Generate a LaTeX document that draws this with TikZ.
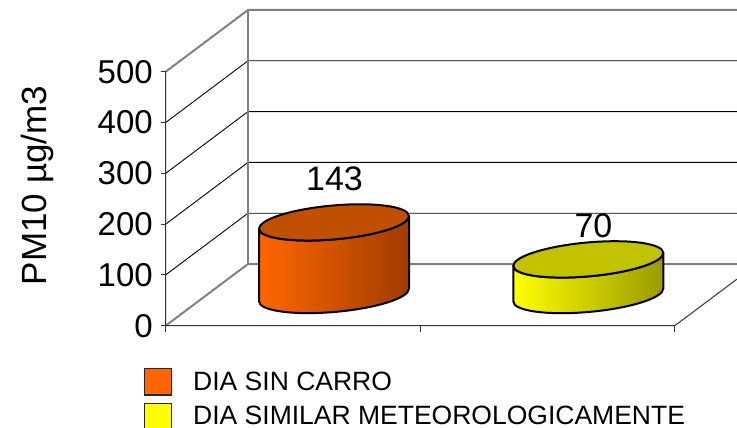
\documentclass[tikz,border=0pt]{standalone}
\usepackage{fontspec}
\setmainfont{Liberation Sans}
\usepackage{tikz}

\definecolor{carroorange}{HTML}{FF6600}
\definecolor{carrodark}{HTML}{A03C00}
\definecolor{carrotop}{HTML}{C05000}
\definecolor{simyellow}{HTML}{FFFF00}
\definecolor{simdark}{HTML}{9A9A00}
\definecolor{simtop}{HTML}{C2C200}
\definecolor{wallgray}{HTML}{808080}

\begin{document}
\begin{tikzpicture}[x=1pt, y=-1pt,
		wall_style/.style={draw=wallgray,line width=2pt},
		grid_style/.style={draw=black,line width=0.9pt},
		axis_style/.style={draw=black!80,line width=1pt},
		tick_label/.style={anchor=east,inner sep=0pt,font=\fontsize{33}{33}\selectfont},
		value_label/.style={anchor=base,inner sep=0pt,font=\fontsize{34}{34}\selectfont},
		axis_label/.style={anchor=base,rotate=90,inner sep=0pt,font=\fontsize{35}{35}\selectfont},
		legend_box/.style={draw=black!85,line width=1.2pt,minimum size=26.5pt,inner sep=0pt},
		legend_label/.style={anchor=base west,inner sep=0pt,font=\fontsize{26.5}{26.5}\selectfont},
		cyl_edge/.style={draw=black,line width=2pt,line join=round}]
		
		\useasboundingbox (0,0) rectangle (737,428);
		
		% front axis and back wall corners
		\coordinate (f0) at (165.7,325.7);
		\coordinate (f1) at (165.7,274.9);
		\coordinate (f2) at (165.7,224.1);
		\coordinate (f3) at (165.7,173.3);
		\coordinate (f4) at (165.7,122.5);
		\coordinate (f5) at (165.7,71.7);
		\coordinate (b0) at (248,264);
		\coordinate (b1) at (248,213.2);
		\coordinate (b2) at (248,162.4);
		\coordinate (b3) at (248,111.6);
		\coordinate (b4) at (248,60.8);
		\coordinate (b5) at (248,10);
		\coordinate (e0) at (737,264);
		\coordinate (e1) at (737,213.2);
		\coordinate (e2) at (737,162.4);
		\coordinate (e3) at (737,111.6);
		\coordinate (e4) at (737,60.8);
		\coordinate (e5) at (737,10);
		\coordinate (fm) at (420.5,325.7);
		\coordinate (fr) at (674.8,325.7);
		\coordinate (fe) at (737,279.1);
		
		% grid
		\draw[grid_style] (f1) -- (b1) -- (e1);
		\draw[grid_style] (f2) -- (b2) -- (e2);
		\draw[grid_style] (f3) -- (b3) -- (e3);
		\draw[grid_style] (f4) -- (b4) -- (e4);
		\draw[wall_style] (f5) -- (b5) -- (e5);
		\draw[wall_style] (f0) -- (b0) -- (e0);
		\draw[wall_style] (b0) -- (b5);
		
		% axes
		\draw[axis_style] (f5) -- (f0) -- (fr) -- (fe);
		\draw[axis_style] (f0) -- ++(-5,0);
		\draw[axis_style] (f1) -- ++(-5,0);
		\draw[axis_style] (f2) -- ++(-5,0);
		\draw[axis_style] (f3) -- ++(-5,0);
		\draw[axis_style] (f4) -- ++(-5,0);
		\draw[axis_style] (f5) -- ++(-5,0);
		\draw[axis_style] (f0) -- ++(0,6);
		\draw[axis_style] (fm) -- ++(0,6);
		\draw[axis_style] (fr) -- ++(0,6);
		
		\node[tick_label] (t0) at (153,325.7) {0};
		\node[tick_label] (t1) at (153,274.9) {100};
		\node[tick_label] (t2) at (153,224.1) {200};
		\node[tick_label] (t3) at (153,173.3) {300};
		\node[tick_label] (t4) at (153,122.5) {400};
		\node[tick_label] (t5) at (153,71.7) {500};
		\node[axis_label] (ylab) at (46.5,185.5) {PM10 µg/m3};
		
		% dia sin carro
		\begin{scope}[shift={(334,222.4)}, cm={1,0.084,0,1,(0,0)}]
			\path[cyl_edge, left color=carroorange, right color=carrodark]
				(-75,0) -- (-75,72.6) arc[start angle=180, end angle=360, x radius=75pt, y radius=17pt]
				-- (75,0) arc[start angle=0, end angle=-180, x radius=75pt, y radius=17pt] -- cycle;
			\path[cyl_edge, fill=carrotop] (0,0) ellipse[x radius=75pt, y radius=17pt];
		\end{scope}
		
		% dia similar
		\begin{scope}[shift={(588.3,259.4)}, cm={1,0.086,0,1,(0,0)}]
			\path[cyl_edge, left color=simyellow, right color=simdark]
				(-75,0) -- (-75,35.6) arc[start angle=180, end angle=360, x radius=75pt, y radius=17pt]
				-- (75,0) arc[start angle=0, end angle=-180, x radius=75pt, y radius=17pt] -- cycle;
			\path[cyl_edge, fill=simtop] (0,0) ellipse[x radius=75pt, y radius=17pt];
		\end{scope}
		
		\node[value_label] (v1) at (334.5,190.7) {143};
		\node[value_label] (v2) at (593.5,237.3) {70};
		
		% legend
		\node[legend_box, fill=carroorange] (leg1) at (158,381.7) {};
		\node[legend_box, fill=simyellow] (leg2) at (158,416.7) {};
		\node[legend_label] (lab1) at (193,390) {DIA SIN CARRO};
		\node[legend_label] (lab2) at (193,424) {DIA SIMILAR METEOROLOGICAMENTE};
		
\end{tikzpicture}
\end{document}
